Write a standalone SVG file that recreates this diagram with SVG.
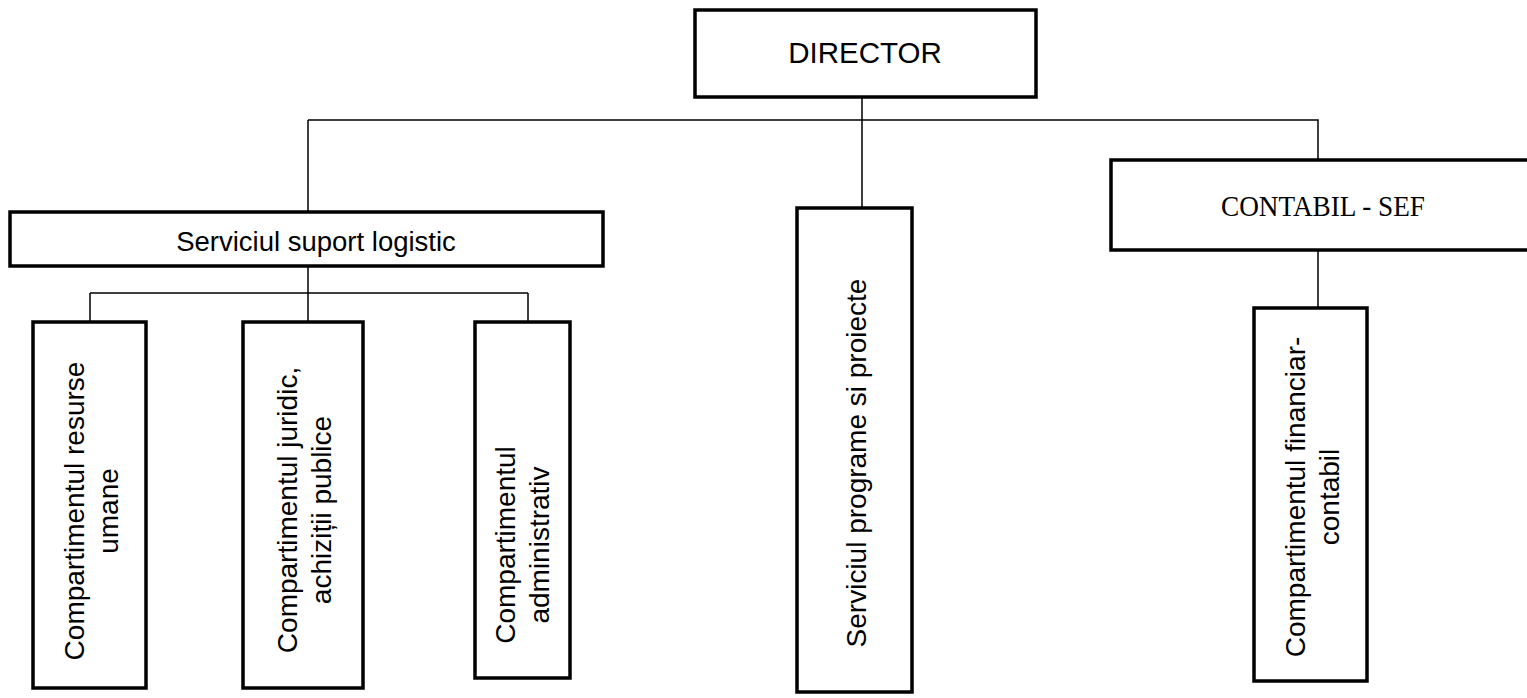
<svg xmlns="http://www.w3.org/2000/svg" width="1527" height="698" viewBox="0 0 1527 698">
<style>
.box{fill:#fff;stroke:#000;stroke-width:3.5}
.con{fill:none;stroke:#000;stroke-width:1.5}
.t{font-family:"Liberation Sans",Arial,sans-serif;font-size:28px;fill:#000}
.s{font-family:"Liberation Serif","Times New Roman",serif;font-size:30px;fill:#000}
</style>
<rect width="1527" height="698" fill="#fff"/>
<g id="connectors">
<path class="con" d="M862 97V208M308 120H1318V160M308 120V212M308 266V322M90 293H528M90 293V322M528 293V322M1318 250V308"/>
</g>
<g id="director">
<rect class="box" x="695" y="10" width="341" height="87"/>
<text class="t" x="865" y="63" text-anchor="middle" style="font-size:29.5px">DIRECTOR</text>
</g>
<g id="suport">
<rect class="box" x="10" y="212" width="593" height="54"/>
<text class="t" x="316" y="251" text-anchor="middle" style="font-size:27.5px">Serviciul suport logistic</text>
</g>
<g id="contabil">
<rect class="box" x="1111" y="160" width="420" height="90"/>
<text class="s" x="1221" y="216" textLength="204" lengthAdjust="spacingAndGlyphs">CONTABIL - SEF</text>
</g>
<g id="resurse">
<rect class="box" x="33" y="322" width="113" height="366"/>
<g transform="translate(91,511) rotate(-90)">
<text class="t" x="0" y="-7" text-anchor="middle">Compartimentul resurse</text>
<text class="t" x="0" y="27" text-anchor="middle">umane</text>
</g>
</g>
<g id="juridic">
<rect class="box" x="243" y="322" width="120" height="366"/>
<g transform="translate(304,510) rotate(-90)">
<text class="t" x="0" y="-7" text-anchor="middle">Compartimentul juridic,</text>
<text class="t" x="0" y="27" text-anchor="middle">achiziții publice</text>
</g>
</g>
<g id="administrativ">
<rect class="box" x="475" y="322" width="95" height="356"/>
<g transform="translate(522,545) rotate(-90)">
<text class="t" x="0" y="-7" text-anchor="middle">Compartimentul</text>
<text class="t" x="0" y="27" text-anchor="middle">administrativ</text>
</g>
</g>
<g id="programe">
<rect class="box" x="797" y="208" width="115" height="484"/>
<g transform="translate(856,463) rotate(-90)">
<text class="t" x="0" y="10" text-anchor="middle">Serviciul programe si proiecte</text>
</g>
</g>
<g id="financiar">
<rect class="box" x="1254" y="308" width="113" height="373"/>
<g transform="translate(1312,497) rotate(-90)">
<text class="t" x="0" y="-7" text-anchor="middle">Compartimentul financiar-</text>
<text class="t" x="0" y="27" text-anchor="middle">contabil</text>
</g>
</g>
</svg>
